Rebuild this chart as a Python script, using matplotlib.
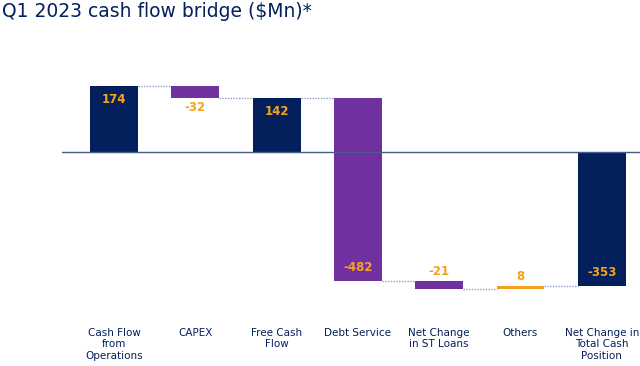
import matplotlib
matplotlib.use("Agg")
import matplotlib.pyplot as plt

categories = ["Cash Flow\nfrom\nOperations", "CAPEX", "Free Cash\nFlow", "Debt Service",
              "Net Change\nin ST Loans", "Others", "Net Change in\nTotal Cash\nPosition"]
values = [174, -32, 142, -482, -21, 8, -353]
kinds = ["total", "delta", "total", "delta", "delta", "delta", "total"]
value_labels = ["174", "-32", "142", "-482", "-21", "8", "-353"]

NAVY = "#03205c"
PURPLE = "#7030a0"
ORANGE = "#f5a31e"
LINE = "#4a5a8a"
DOT = "#8fa3c6"

fig = plt.figure(figsize=(6.4, 3.66), dpi=100)
ax = fig.add_axes([62/640, 66/366, 578/640, 260/366])
ax.set_xlim(-0.64, 6.47)
ax.set_ylim(-389.5, 294.7)

w = 0.59
bottoms, tops = [], []
cum = 0
for i, (v, k) in enumerate(zip(values, kinds)):
    if k == "total":
        b, t = 0, v
        cum = v
        color = NAVY
    else:
        b = cum
        cum = cum + v
        t = cum
        color = ORANGE if v > 0 else PURPLE
    bottoms.append(min(b, t)); tops.append(max(b, t))
    ax.bar(i, t - b, bottom=b, width=w, color=color, edgecolor="none", zorder=3)

# connectors
levels = []
cum = 0
for v, k in zip(values, kinds):
    cum = v if k == "total" else cum + v
    levels.append(cum)
for i in range(len(values) - 1):
    ax.plot([i + w/2, i + 1 - w/2], [levels[i], levels[i]], color=DOT, lw=1.0,
            linestyle=(0, (1, 1)), zorder=2)

ax.axhline(0, color=LINE, lw=1.0, zorder=4)

# value labels
lab_style = dict(color=ORANGE, fontsize=8.5, fontweight="bold", ha="center", va="center", zorder=5)
for i, (v, k, s) in enumerate(zip(values, kinds, value_labels)):
    if k == "total":
        if v > 0:
            y = tops[i] - 35
        else:
            y = bottoms[i] + 35
    elif v == -482:
        y = bottoms[i] + 35
    elif i == 1:
        y = bottoms[i] - 25
    else:
        y = tops[i] + 25
    ax.text(i, y, s, **lab_style)

ax.set_xticks(range(len(categories)))
ax.set_xticklabels(categories, fontsize=7.5, color=NAVY, linespacing=1.2, va="top")
ax.tick_params(axis="x", length=0, pad=20)
ax.set_yticks([])
for sp in ax.spines.values():
    sp.set_visible(False)

fig.text(2/640, 1 - 2/366, "Q1 2023 cash flow bridge ($Mn)*", fontsize=13.5, color=NAVY,
         ha="left", va="top")

fig.savefig("out.png", dpi=100)
